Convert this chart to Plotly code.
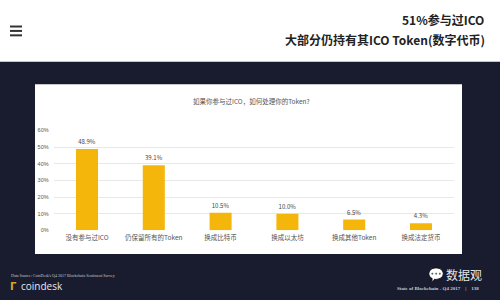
import plotly.graph_objects as go

categories = ["没有参与过ICO", "仍保留所有的Token", "换成比特币", "换成以太坊", "换成其他Token", "换成法定货币"]
values = [48.9, 39.1, 10.5, 10.0, 6.5, 4.3]
tick_vals = [0, 10, 20, 30, 40, 50, 60]
tick_text = ["0%", "10%", "20%", "30%", "40%", "50%", "60%"]

NAVY = "#181c2e"
BAR = "#f5b60c"
CJK = "Noto Sans CJK SC"

W, H = 500, 300
def px(x):
    return x / W
def py(y):
    return 1 - y / H

fig = go.Figure(go.Bar(
    x=categories, y=values, width=0.33,
    marker=dict(color=BAR, line=dict(width=0)),
    text=[f"{v:.1f}%" for v in values], textposition="outside",
    textfont=dict(family=CJK, size=6, color="#444"), cliponaxis=False,
))

shapes = [
    dict(type="rect", xref="paper", yref="paper", x0=-0.02, x1=1.02, y0=py(60), y1=1.05,
         fillcolor="white", line=dict(width=0), layer="below"),
    dict(type="rect", xref="paper", yref="paper", x0=px(35), x1=px(462), y0=py(256), y1=py(83),
         fillcolor="white", line=dict(width=0), layer="below"),
]
for yy in (24, 28.5, 33):
    shapes.append(dict(type="line", xref="paper", yref="paper", x0=px(10), x1=px(22),
                       y0=py(yy), y1=py(yy), line=dict(color="#333", width=2)))

annotations = [
    dict(text="<b>51%参与过ICO</b>", x=px(486), y=py(17), xref="paper", yref="paper",
         xanchor="right", yanchor="middle", showarrow=False,
         font=dict(family=CJK, size=12, color="#222")),
    dict(text="<b>大部分仍持有其ICO Token(数字代币)</b>", x=px(487), y=py(37), xref="paper", yref="paper",
         xanchor="right", yanchor="middle", showarrow=False,
         font=dict(family=CJK, size=12, color="#222")),
    dict(text="如果你参与过ICO，如何处理你的Token?", x=px(251), y=py(100), xref="paper", yref="paper",
         xanchor="center", yanchor="middle", showarrow=False,
         font=dict(family=CJK, size=6.5, color="#555")),
    dict(text="Data Source: CoinDesk's Q4 2017 Blockchain Sentiment Survey", x=px(9), y=py(278),
         xref="paper", yref="paper", xanchor="left", yanchor="middle", showarrow=False,
         font=dict(family="Liberation Serif", size=4, color="#c8c8d0")),
    dict(text="coindesk", x=px(19), y=py(289), xref="paper", yref="paper",
         xanchor="left", yanchor="middle", showarrow=False,
         font=dict(family="Open Sans", size=10, color="#e8e8ee")),
    dict(text="<b>Γ</b>", x=px(8), y=py(289), xref="paper", yref="paper",
         xanchor="left", yanchor="middle", showarrow=False,
         font=dict(family="DejaVu Sans", size=10, color="#d9a520")),
    dict(text="数据观", x=px(484), y=py(277), xref="paper", yref="paper",
         xanchor="right", yanchor="middle", showarrow=False,
         font=dict(family=CJK, size=12, color="#e6e6ea")),
    dict(text="💬", x=px(446), y=py(277), xref="paper", yref="paper",
         xanchor="right", yanchor="middle", showarrow=False,
         font=dict(family="DejaVu Sans", size=13, color="#e6e6ea")),
    dict(text="<b>State of Blockchain - Q4 2017    |    138</b>", x=px(481), y=py(291),
         xref="paper", yref="paper", xanchor="right", yanchor="middle", showarrow=False,
         font=dict(family="Liberation Serif", size=5, color="#c8c8d0")),
]

fig.update_layout(
    width=W, height=H, margin=dict(l=0, r=0, t=0, b=0),
    paper_bgcolor=NAVY, plot_bgcolor="rgba(0,0,0,0)",
    showlegend=False, bargap=0.67,
    shapes=shapes, annotations=annotations,
    xaxis=dict(domain=[px(53.6), px(454.4)], showgrid=False, zeroline=False, showline=False,
               ticks="", tickfont=dict(family=CJK, size=6.5, color="#555"), ticklabelstandoff=2),
    yaxis=dict(domain=[py(232), py(130)], range=[0, 60], tickvals=tick_vals, ticktext=tick_text,
               showgrid=True, gridcolor="#e8e8e8", gridwidth=1, zeroline=False, showline=False,
               tickfont=dict(family="Liberation Sans", size=5.5, color="#555"), ticks="",
               ticklabelstandoff=4),
)

fig.write_html("out.html")
